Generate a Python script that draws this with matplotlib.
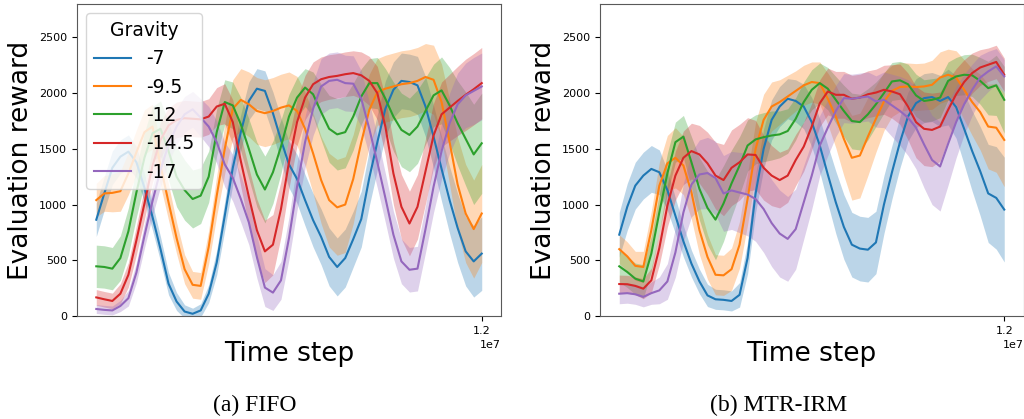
import numpy as np
import matplotlib
matplotlib.use("Agg")
import matplotlib.pyplot as plt

# time axis: 49 evaluation points from 0 to 1.2e7 steps
steps = np.linspace(0, 1.2e7, 49)

gravity = ["-7", "-9.5", "-12", "-14.5", "-17"]
colors = ["#1f77b4", "#ff7f0e", "#2ca02c", "#d62728", "#9467bd"]

# ---- (a) FIFO: mean reward and spread per gravity ----
fifo_g7 = [864, 1100, 1330, 1430, 1475, 1380, 1150, 890, 600, 290, 130, 40, 20, 50, 200, 480,
           900, 1330, 1650, 1930, 2040, 2020, 1820, 1580, 1360, 1230, 1040, 860, 710, 530, 440, 520,
           690, 870, 1240, 1560, 1860, 2030, 2110, 2100, 2070, 1880, 1610, 1320, 1040, 790, 580, 490, 560]
fifo_g7_sd = [150, 150, 150, 150, 150, 140, 130, 120, 110, 100, 80, 60, 50, 60, 80, 110,
              130, 150, 160, 170, 180, 180, 190, 200, 210, 220, 230, 240, 250, 260, 260, 260,
              250, 250, 250, 250, 250, 250, 250, 250, 260, 270, 280, 290, 300, 310, 310, 320, 330]

fifo_g95 = [1040, 1100, 1105, 1120, 1280, 1470, 1650, 1700, 1350, 1020, 700, 420, 280, 270, 620, 1080,
            1500, 1860, 1940, 1900, 1840, 1820, 1840, 1870, 1890, 1840, 1680, 1460, 1220, 1040, 975, 1000,
            1230, 1560, 1850, 2010, 2040, 2060, 2080, 2090, 2110, 2145, 2120, 1920, 1560, 1180, 920, 780, 920]
fifo_g95_sd = [150, 160, 170, 180, 190, 200, 200, 200, 180, 160, 140, 130, 120, 120, 150, 180,
               220, 260, 280, 290, 300, 300, 300, 300, 300, 310, 330, 360, 390, 420, 430, 430,
               400, 360, 320, 300, 300, 300, 300, 300, 300, 300, 310, 340, 380, 420, 440, 440, 440]

fifo_g12 = [446, 440, 425, 520, 760, 1110, 1420, 1640, 1680, 1480, 1250, 1130, 1050, 1080, 1250, 1650,
            1920, 1890, 1720, 1500, 1270, 1135, 1290, 1520, 1790, 1960, 2050, 1990, 1830, 1680, 1630, 1650,
            1790, 1970, 2090, 2090, 1950, 1790, 1670, 1625, 1700, 1840, 1980, 2025, 1890, 1730, 1590, 1450, 1550]
fifo_g12_sd = [190, 190, 190, 200, 210, 220, 230, 240, 250, 260, 270, 270, 260, 250, 230, 210,
               200, 210, 240, 270, 290, 300, 280, 240, 200, 180, 170, 200, 250, 300, 320, 320,
               300, 250, 220, 230, 270, 310, 330, 330, 330, 300, 280, 300, 340, 380, 420, 450, 450]

fifo_g145 = [167, 150, 135, 200, 370, 680, 1010, 1350, 1580, 1710, 1760, 1775, 1770, 1765, 1790, 1880,
             1905, 1740, 1390, 1070, 770, 580, 640, 960, 1380, 1740, 1960, 2080, 2125, 2145, 2155, 2170,
             2180, 2160, 2110, 2000, 1700, 1280, 980, 830, 980, 1300, 1620, 1810, 1870, 1930, 1985, 2035, 2090]
fifo_g145_sd = [70, 70, 70, 90, 110, 130, 140, 150, 160, 160, 160, 160, 160, 160, 160, 170,
                180, 200, 230, 260, 280, 280, 270, 250, 230, 210, 200, 200, 200, 200, 200, 200,
                200, 210, 220, 240, 260, 280, 290, 290, 290, 290, 290, 290, 300, 310, 320, 320, 320]

fifo_g17 = [63, 55, 50, 90, 160, 390, 720, 1030, 1310, 1540, 1700, 1810, 1855, 1780, 1700, 1560,
            1360, 1240, 1050, 840, 530, 255, 210, 320, 700, 1160, 1560, 1860, 2060, 2110, 2120, 2090,
            2085, 1950, 1680, 1380, 1060, 730, 490, 415, 425, 780, 1160, 1480, 1730, 1900, 1980, 2020, 2060]
fifo_g17_sd = [40, 40, 40, 50, 70, 90, 110, 130, 150, 160, 160, 160, 160, 170, 180, 190,
               200, 210, 210, 200, 190, 170, 160, 170, 190, 210, 230, 240, 250, 250, 250, 250,
               250, 250, 240, 230, 220, 210, 200, 200, 200, 210, 230, 250, 270, 280, 290, 300, 300]

# ---- (b) MTR-IRM ----
mtr_g7 = [730, 980, 1170, 1260, 1320, 1290, 1130, 900, 670, 470, 310, 185, 150, 145, 135, 190,
          520, 1100, 1500, 1760, 1880, 1950, 1930, 1880, 1740, 1530, 1270, 1020, 800, 640, 605, 595,
          660, 1000, 1290, 1560, 1790, 1910, 1955, 1965, 1930, 1965, 1875, 1680, 1480, 1300, 1100, 1060, 955]
mtr_g7_sd = [200, 210, 210, 210, 210, 200, 180, 160, 140, 120, 110, 100, 90, 90, 90, 110,
             140, 170, 180, 180, 180, 180, 190, 200, 220, 240, 260, 280, 290, 290, 290, 290,
             280, 260, 240, 230, 220, 220, 220, 220, 230, 250, 280, 320, 360, 400, 440, 460, 470]

mtr_g95 = [600, 535, 450, 440, 770, 1170, 1370, 1420, 1350, 1110, 770, 530, 370, 365, 420, 640,
           1050, 1500, 1760, 1880, 1920, 1970, 2020, 2070, 2100, 2090, 1950, 1790, 1590, 1420, 1440, 1610,
           1770, 1925, 2020, 2055, 2060, 2055, 2060, 2075, 2140, 2165, 2140, 2030, 1920, 1830, 1700, 1690, 1580]
mtr_g95_sd = [130, 130, 130, 140, 170, 210, 250, 270, 260, 240, 220, 200, 180, 180, 190, 210,
              230, 240, 230, 220, 200, 190, 180, 180, 180, 190, 230, 280, 330, 380, 380, 350,
              300, 260, 230, 220, 210, 210, 210, 220, 230, 230, 240, 270, 300, 340, 380, 400, 420]

mtr_g12 = [446, 395, 335, 310, 560, 930, 1280, 1560, 1610, 1380, 1140, 970, 865, 1010, 1190, 1350,
           1530, 1585, 1605, 1620, 1630, 1660, 1770, 1920, 2030, 2090, 2040, 1940, 1840, 1750, 1740, 1810,
           1900, 2000, 2105, 2115, 2080, 1980, 1930, 1940, 1960, 2110, 2150, 2165, 2160, 2110, 2045, 2070, 1940]
mtr_g12_sd = [140, 140, 140, 150, 160, 170, 180, 180, 190, 230, 280, 330, 360, 340, 300, 260,
              230, 220, 220, 220, 210, 200, 190, 180, 180, 180, 190, 210, 230, 250, 250, 230,
              200, 180, 170, 170, 180, 190, 190, 190, 180, 170, 170, 180, 190, 210, 240, 270, 300]

mtr_g145 = [287, 285, 270, 245, 320, 610, 990, 1260, 1420, 1480, 1450, 1370, 1260, 1220, 1330, 1380,
            1450, 1445, 1330, 1260, 1220, 1260, 1400, 1520, 1700, 1910, 2015, 1985, 1985, 1950, 1960, 1990,
            2005, 2030, 2015, 1990, 1880, 1740, 1680, 1670, 1700, 1850, 1990, 2100, 2180, 2230, 2255, 2280, 2165]
mtr_g145_sd = [80, 80, 80, 90, 110, 150, 190, 220, 240, 250, 260, 280, 300, 320, 340, 340,
               330, 310, 290, 270, 250, 240, 230, 220, 210, 210, 210, 210, 210, 210, 210, 210,
               210, 220, 240, 270, 300, 320, 330, 330, 310, 270, 230, 200, 180, 160, 150, 150, 150]

mtr_g17 = [200, 205, 195, 172, 205, 230, 310, 570, 930, 1180, 1270, 1283, 1238, 1100, 1127, 1108,
           1090, 1050, 960, 834, 740, 692, 780, 1020, 1260, 1530, 1690, 1840, 1955, 1950, 1960, 1970,
           1925, 1940, 1890, 1840, 1780, 1690, 1540, 1400, 1342, 1545, 1740, 1900, 2030, 2140, 2195, 2240, 2150]
mtr_g17_sd = [90, 90, 90, 90, 100, 120, 160, 220, 260, 290, 310, 320, 330, 340, 350, 360,
              370, 380, 390, 390, 390, 380, 360, 330, 300, 270, 250, 230, 220, 220, 220, 220,
              230, 250, 280, 310, 340, 370, 390, 400, 400, 370, 320, 270, 230, 200, 180, 160, 150]

panels = [
    ("(a) FIFO", [fifo_g7, fifo_g95, fifo_g12, fifo_g145, fifo_g17],
     [fifo_g7_sd, fifo_g95_sd, fifo_g12_sd, fifo_g145_sd, fifo_g17_sd]),
    ("(b) MTR-IRM", [mtr_g7, mtr_g95, mtr_g12, mtr_g145, mtr_g17],
     [mtr_g7_sd, mtr_g95_sd, mtr_g12_sd, mtr_g145_sd, mtr_g17_sd]),
]

fig = plt.figure(figsize=(10.24, 4.19), dpi=100)
axes_rects = [[77 / 1024, 103 / 419, 424 / 1024, 312 / 419],
              [600 / 1024, 103 / 419, 423.5 / 1024, 312 / 419]]
caption_x = [255 / 1024, 779 / 1024]

for i, (caption, means, sds) in enumerate(panels):
    ax = fig.add_axes(axes_rects[i])
    for label, mean, sd, col in zip(gravity, means, sds, colors):
        mean = np.array(mean, dtype=float)
        sd = np.array(sd, dtype=float)
        ax.plot(steps, mean, color=col, lw=1.5, label=label)
        ax.fill_between(steps, mean - sd, mean + sd, color=col, alpha=0.3, lw=0)
    ax.set_ylim(0, 2800)
    ax.set_yticks([0, 500, 1000, 1500, 2000, 2500])
    ax.set_xticks([1.2e7])
    ax.tick_params(labelsize=8)
    ax.xaxis.get_offset_text().set_fontsize(8)
    ax.set_xlabel("Time step", fontsize=19)
    ax.set_ylabel("Evaluation reward", fontsize=19)
    for sp in ax.spines.values():
        sp.set_color("0.35")
    if i == 0:
        ax.legend(title="Gravity", loc="upper left", fontsize=13.5,
                  title_fontsize=13.5)
    # panel caption below each plot
    fig.text(caption_x[i], 1 - 405 / 419, caption, ha="center", va="center",
             fontsize=17, family="Liberation Serif")

fig.savefig("out.png", dpi=100)
